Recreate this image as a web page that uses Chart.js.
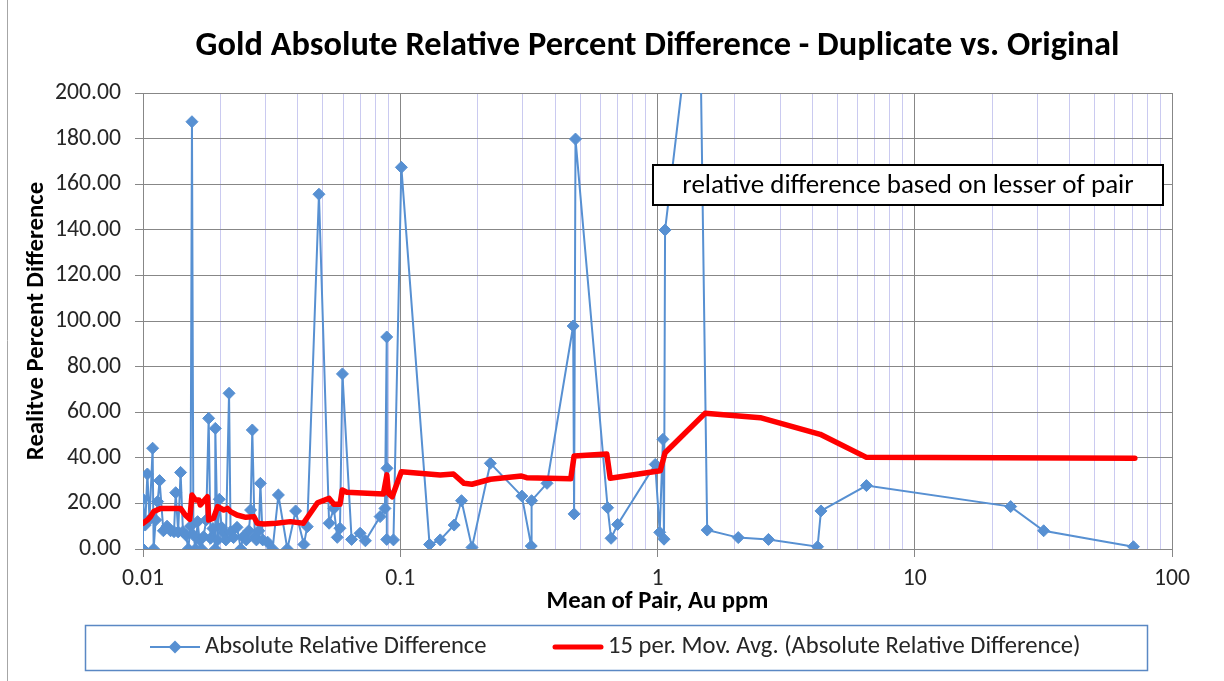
<!DOCTYPE html>
<html>
<head>
<meta charset="utf-8">
<title>Gold ARD - Duplicate vs. Original</title>
<script src="https://cdn.jsdelivr.net/npm/chart.js@4.4.1/dist/chart.umd.min.js"></script>
<style>
  body { margin: 0; background: #fff; }
  #wrap { position: relative; width: 1224px; height: 681px; }
</style>
</head>
<body>
<div id="wrap"><canvas id="ardChart" width="1224" height="681"></canvas></div>
<script>
// mean of pair (Au ppm), sorted as in the sheet
const meanAu = [
  0.0100, 0.0100, 0.0102, 0.0104, 0.0106, 0.0109, 0.0110, 0.0112, 0.0114, 0.0116,
  0.0120, 0.0124, 0.0128, 0.0132, 0.0134, 0.0137, 0.0140, 0.0143, 0.0147, 0.0150,
  0.0153, 0.0155, 0.0157, 0.0160, 0.0163, 0.0166, 0.0169, 0.0172, 0.0176, 0.0180,
  0.0183, 0.0187, 0.0191, 0.0191, 0.0195, 0.0198, 0.0202, 0.0206, 0.0210, 0.0216,
  0.0219, 0.0225, 0.0232, 0.0240, 0.0245, 0.0252, 0.0258, 0.0262, 0.0266, 0.0272,
  0.0276, 0.0282, 0.0286, 0.0292, 0.0305, 0.0319, 0.0336, 0.0364, 0.0392, 0.0422,
  0.0435, 0.0483, 0.0529, 0.0552, 0.0569, 0.0583, 0.0596, 0.0647, 0.0698, 0.0732,
  0.0835, 0.0872, 0.0886, 0.0886, 0.0888, 0.0886, 0.0941, 0.101, 0.130, 0.143,
  0.162, 0.173, 0.190, 0.224, 0.297, 0.323, 0.324, 0.372, 0.470, 0.474,
  0.480, 0.640, 0.660, 0.700, 0.980, 1.02, 1.05, 1.06, 1.07, 1.45,
  1.56, 2.06, 2.70, 4.19, 4.32, 6.49, 23.6, 31.7, 70.8
];
// absolute relative percent difference
const absRelDiff = [
  0, 21.8, 10.5, 32.9, 13, 44.2, 0, 12.7, 20.8, 30,
  8, 10, 8, 7.6, 24.7, 7.5, 33.6, 7.6, 6, 0,
  10, 187.4, 6.1, 0, 12, 4, 0, 5.4, 12.7, 57.3,
  4.7, 9, 0, 52.9, 4, 21.8, 9.5, 7, 4, 68.3,
  7.6, 5, 9.5, 0, 5.4, 4, 8, 17.1, 52.2, 5.4,
  4, 8, 28.8, 4, 3, 0, 23.7, 0, 16.7, 2,
  9.8, 155.6, 11.3, 17.8, 5.1, 9.1, 76.8, 4.2, 6.9, 3.6,
  14.2, 17.8, 93, 25, 35.4, 4.2, 4, 167.4, 2, 4,
  10.5, 21.2, 0.7, 37.6, 23.2, 1.3, 21.2, 28.8, 97.8, 15.4,
  179.8, 18.1, 4.7, 10.8, 37.1, 7.3, 48.1, 4.3, 139.9, 266,
  8.3, 5.0, 4.2, 1, 16.7, 27.8, 18.6, 8.0, 1
];
// 15 per. moving average trendline
const movAvgMean = [
  0.0100, 0.0104, 0.0107, 0.0110, 0.0117, 0.0128, 0.0140, 0.0146, 0.0152, 0.0155,
  0.0160, 0.0165, 0.0167, 0.0178, 0.0180, 0.0188, 0.0195, 0.0206, 0.0213, 0.0219,
  0.0232, 0.0251, 0.0270, 0.0278, 0.0295, 0.0330, 0.0374, 0.0420, 0.0477, 0.0529,
  0.0552, 0.0583, 0.0595, 0.0620, 0.0744, 0.0860, 0.0887, 0.0900, 0.0930, 0.1010,
  0.143, 0.161, 0.177, 0.190, 0.224, 0.296, 0.310, 0.460, 0.474, 0.635,
  0.655, 1.025, 1.07, 1.53, 2.51, 4.29, 6.49, 71.7
];
const movAvgValue = [
  11.3, 12.7, 14.2, 16.4, 17.8, 17.8, 17.8, 14.9, 13.0, 23.7,
  21.5, 21.5, 19.3, 22.9, 12.7, 13.5, 18.6, 17.1, 17.8, 16.4,
  14.9, 13.9, 14.2, 11.3, 11.0, 11.3, 12.0, 11.3, 20.3, 22.2,
  19.6, 19.6, 25.9, 24.9, 24.4, 24.1, 32.5, 24.4, 22.9, 33.9,
  32.5, 32.9, 28.8, 28.4, 30.6, 32.0, 31.3, 30.8, 40.8, 41.7,
  31.0, 34.3, 42.2, 59.5, 57.6, 50.3, 40.2, 39.8
];
const xTickLabels = ['0.01', '0.1', '1', '10', '100'];
const yTickStep = 20;

const BLUE = '#5790d2';
const RED = '#ff0000';
const MAJOR = '#878787';
const MINOR = '#cacaf0';
const FAMILY = 'Carlito, Lato, sans-serif';

// size a font so the text spans roughly the width it has in the original
const measureCtx = document.createElement('canvas').getContext('2d');
function fitSize(text, width, weight) {
  measureCtx.font = `${weight} 100px ${FAMILY}`;
  return Math.round(1000 * width / measureCtx.measureText(text).width) / 10;
}

const titleText = 'Gold Absolute Relative Percent Difference - Duplicate vs. Original';
const noteText = 'relative difference based on lesser of pair';
const legendText1 = 'Absolute Relative Difference';
const legendText2 = '15 per. Mov. Avg. (Absolute Relative Difference)';

const titleSize = fitSize(titleText, 925, 'bold');
const tickSize = fitSize('200.00', 66, 'normal');
const yTitleSize = fitSize('Realitve Percent Difference', 279, 'bold');
const xTitleSize = fitSize('Mean of Pair, Au ppm', 222, 'bold');
const legendSize = fitSize(legendText1, 282, 'normal');
const noteSize = fitSize(noteText, 452, 'normal');

// log grid: decades plus 2..9 in between
const gridValues = [];
for (let e = -2; e <= 1; e++) {
  for (let m = 1; m <= 9; m++) gridValues.push(m * Math.pow(10, e));
}
gridValues.push(100);
const isDecade = v => Math.abs(Math.log10(v) - Math.round(Math.log10(v))) < 1e-9;

const ardPoints = meanAu.map((x, i) => ({ x: x, y: absRelDiff[i] }));
const maPoints = movAvgMean.map((x, i) => ({ x: x, y: movAvgValue[i] }));

// frame, note box and legend drawn on top of the chart
const chartDecor = {
  id: 'chartDecor',
  afterDraw(chart) {
    const c = chart.ctx;
    c.save();
    c.strokeStyle = '#a6a6a6';
    c.lineWidth = 1;
    c.beginPath();
    c.moveTo(7.5, 0);
    c.lineTo(7.5, 681);
    c.stroke();

    // note
    c.fillStyle = '#fff';
    c.fillRect(653, 165, 510, 40);
    c.strokeStyle = '#000';
    c.lineWidth = 2;
    c.strokeRect(653, 165, 510, 40);
    c.fillStyle = '#000';
    c.font = `normal ${noteSize}px ${FAMILY}`;
    c.textAlign = 'center';
    c.textBaseline = 'middle';
    c.fillText(noteText, 908, 186);

    // legend
    c.strokeStyle = '#5a88c4';
    c.lineWidth = 1.5;
    c.strokeRect(85.5, 625.5, 1062, 45);
    const ly = 647;
    c.strokeStyle = BLUE;
    c.lineWidth = 2;
    c.beginPath();
    c.moveTo(150, ly);
    c.lineTo(200, ly);
    c.stroke();
    c.fillStyle = BLUE;
    c.beginPath();
    c.moveTo(175, ly - 6.5);
    c.lineTo(181.5, ly);
    c.lineTo(175, ly + 6.5);
    c.lineTo(168.5, ly);
    c.closePath();
    c.fill();
    c.strokeStyle = RED;
    c.lineWidth = 5;
    c.lineCap = 'round';
    c.beginPath();
    c.moveTo(555, ly);
    c.lineTo(601, ly);
    c.stroke();
    c.fillStyle = '#262626';
    c.font = `normal ${legendSize}px ${FAMILY}`;
    c.textAlign = 'left';
    c.fillText(legendText1, 205, ly);
    c.fillText(legendText2, 608, ly);
    c.restore();
  }
};

const ctx = document.getElementById('ardChart').getContext('2d');
new Chart(ctx, {
  type: 'scatter',
  data: {
    datasets: [
      {
        label: legendText2,
        data: maPoints,
        showLine: true,
        borderColor: RED,
        borderWidth: 5.5,
        borderJoinStyle: 'round',
        borderCapStyle: 'round',
        pointRadius: 0,
        tension: 0,
        order: 0
      },
      {
        label: legendText1,
        data: ardPoints,
        showLine: true,
        borderColor: BLUE,
        backgroundColor: BLUE,
        borderWidth: 2,
        pointStyle: 'rectRot',
        pointRadius: 6,
        pointBorderWidth: 1,
        tension: 0,
        order: 1
      }
    ]
  },
  options: {
    responsive: false,
    animation: false,
    layout: { padding: { left: 8, right: 52, top: 0, bottom: 62 } },
    plugins: {
      legend: { display: false },
      tooltip: { enabled: false },
      title: {
        display: true,
        fullSize: false,
        text: titleText,
        color: '#000',
        font: { family: FAMILY, size: titleSize, weight: 'bold' },
        padding: { top: 46 - titleSize * 0.6, bottom: 93 - 46 - titleSize * 0.6 }
      }
    },
    scales: {
      x: {
        type: 'logarithmic',
        min: 0.01,
        max: 100,
        afterBuildTicks: scale => { scale.ticks = gridValues.map(v => ({ value: v })); },
        afterFit: scale => { scale.height = 70; },
        ticks: {
          autoSkip: false,
          maxRotation: 0,
          padding: 8,
          color: '#262626',
          font: { family: FAMILY, size: tickSize },
          callback: v => isDecade(v) ? xTickLabels[Math.round(Math.log10(v)) + 2] : ''
        },
        grid: {
          color: c => (c.tick && isDecade(c.tick.value)) ? MAJOR : MINOR,
          tickColor: c => (c.tick && isDecade(c.tick.value)) ? MAJOR : 'rgba(0,0,0,0)',
          tickLength: 8
        },
        border: { color: MAJOR },
        title: {
          display: true,
          text: 'Mean of Pair, Au ppm',
          color: '#000',
          font: { family: FAMILY, size: xTitleSize, weight: 'bold' },
          padding: { top: 0, bottom: 2 }
        }
      },
      y: {
        min: 0,
        max: 200,
        afterFit: scale => { scale.width = 135; },
        ticks: {
          stepSize: yTickStep,
          padding: 14,
          color: '#262626',
          font: { family: FAMILY, size: tickSize },
          callback: v => v.toFixed(2)
        },
        grid: { color: MAJOR, tickLength: 8 },
        border: { color: MAJOR },
        title: {
          display: true,
          text: 'Realitve Percent Difference',
          color: '#000',
          font: { family: FAMILY, size: yTitleSize, weight: 'bold' },
          padding: { top: 14, bottom: 0 }
        }
      }
    }
  },
  plugins: [chartDecor]
});
</script>
</body>
</html>
